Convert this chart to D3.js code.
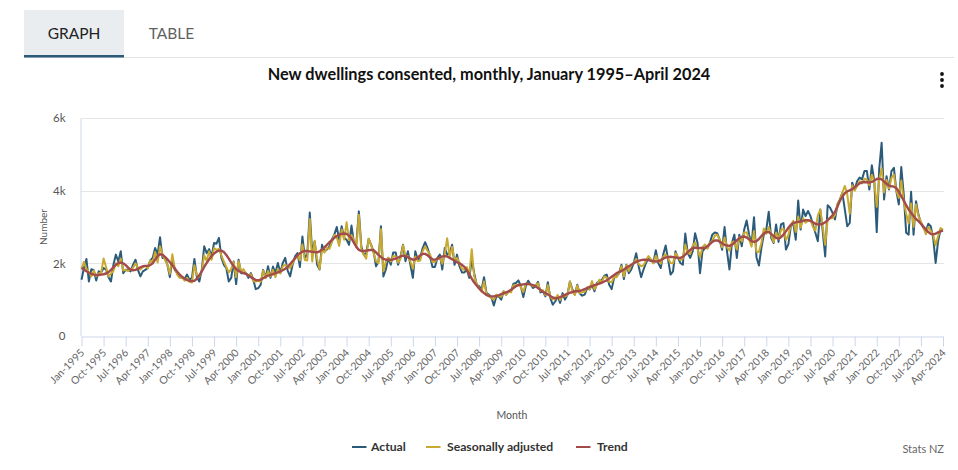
<!DOCTYPE html>
<html><head><meta charset="utf-8">
<script src="https://cdn.jsdelivr.net/npm/d3@7/dist/d3.min.js"></script>
<style>
html,body{margin:0;padding:0;background:#fff}
svg{display:block;font-family:Lato,"Open Sans",sans-serif}
</style></head><body>
<svg id="c" width="958" height="470"></svg>
<script>
const title = "New dwellings consented, monthly, January 1995–April 2024";
const tabs = ["GRAPH","TABLE"];
const yTicks = [0,2000,4000,6000];
const yTickLabels = ["0","2k","4k","6k"];
const tickLabels = ["Jan-1995","Oct-1995","Jul-1996","Apr-1997","Jan-1998","Oct-1998","Jul-1999","Apr-2000","Jan-2001","Oct-2001","Jul-2002","Apr-2003","Jan-2004","Oct-2004","Jul-2005","Apr-2006","Jan-2007","Oct-2007","Jul-2008","Apr-2009","Jan-2010","Oct-2010","Jul-2011","Apr-2012","Jan-2013","Oct-2013","Jul-2014","Apr-2015","Jan-2016","Oct-2016","Jul-2017","Apr-2018","Jan-2019","Oct-2019","Jul-2020","Apr-2021","Jan-2022","Oct-2022","Jul-2023","Apr-2024"];
const seriesNames = ["Actual","Seasonally adjusted","Trend"];
const seriesColors = ["#2c5b7a","#c9a930","#a34b4b"];
const actual = [
1550,1870,2120,1500,1840,1810,1530,1780,1750,1870,1830,1620,
1500,1960,2240,2050,2330,1730,1820,1820,1780,1960,2100,1820,
1640,1780,1820,1870,2080,2150,2420,2240,2720,2150,2150,1960,
1620,2100,1820,1730,1620,1600,1570,1690,1550,1600,2120,1620,
1500,1820,2470,2280,2390,2190,2560,2540,2700,2150,1960,1870,
1500,1600,2050,1430,2100,1730,1730,1730,1600,1730,1550,1290,
1320,1410,1820,1600,1920,1600,1910,1730,2010,1740,2010,2150,
1800,1640,1960,2190,2280,1900,2740,2150,2240,3400,2280,2600,
1960,1830,2510,2330,2380,2470,2650,2790,3000,2650,3020,2700,
2650,2510,3040,2560,2560,3430,2470,2240,2280,2670,2510,2330,
1920,2050,3020,1640,1830,2150,1960,2300,2300,1960,2190,2510,
2060,2330,1960,1600,2330,2100,2150,2420,2580,2420,2190,1900,
1900,2150,2240,1830,2420,2240,2280,2510,1960,2240,1920,1750,
1750,1830,1600,2100,1730,1410,1370,1280,1620,1180,1140,1070,
840,1090,1090,1000,1230,1140,1230,1230,1440,1460,1530,1370,
1070,1370,1520,1410,1320,1370,1490,1200,1230,1090,1480,1050,
860,950,1090,910,1180,1000,1140,1500,1280,1140,1410,1170,
1110,1140,1320,1280,1410,1230,1460,1500,1550,1660,1690,1410,
1290,1600,1650,1730,1960,1570,1960,1730,1830,2010,2280,1920,
1620,1830,2010,2150,2100,2010,2360,2010,1870,2240,2490,2100,
1690,1780,2330,2150,2010,1960,2820,2280,2150,2330,2830,2560,
1730,2330,2420,2420,2560,2790,2850,2830,2650,2370,3000,2330,
1830,2560,2790,2150,2790,2470,2930,3180,2790,2520,3270,2170,
1940,2420,2790,2930,3420,2700,2560,3070,2590,3070,3110,2380,
2520,3020,3110,2650,3730,2930,3480,3300,3440,3300,3070,2840,
2610,3480,2880,2190,3600,3530,3390,3210,3620,3760,3940,3480,
3020,3110,4220,4030,4260,4360,4310,4540,4540,4030,4700,4260,
2860,4590,5320,3760,4400,4030,4540,4630,3990,3620,4650,3900,
2840,2790,3970,2790,3710,3340,3110,2980,2880,3090,3020,2700,
2010,2610,2930,2900];
const seasonallyAdjusted = [
1850,2040,1850,1760,1640,1800,1640,1720,1740,2130,1900,1640,
1720,1790,2000,1920,2130,1800,1820,1790,1830,1880,2000,1880,
1830,1900,1930,1860,2080,2030,2310,2020,2470,2240,2090,1960,
1710,2250,1860,1690,1600,1620,1520,1600,1490,1470,1950,1680,
1630,1790,2220,2070,2330,2100,2420,2370,2400,2220,2050,1900,
1750,1840,2030,1620,2060,1780,1840,1720,1660,1700,1510,1500,
1530,1490,1800,1590,1790,1640,1820,1620,1850,1720,1920,1960,
1890,1870,2000,2130,2210,2080,2520,2090,2080,3220,2050,2620,
2120,1840,2380,2300,2420,2400,2570,2780,2720,2480,2930,2650,
3130,2640,2780,2640,2440,3340,2400,2240,2130,2680,2500,2280,
2060,2000,2940,1780,2050,2160,2050,2200,2190,2020,2130,2500,
2200,2200,2050,1850,2190,2060,2080,2330,2470,2340,2240,2040,
2040,2120,2160,1990,2260,2690,2180,2450,2080,2150,2010,1850,
1820,1900,1680,2390,1640,1430,1330,1220,1500,1150,1110,1040,
1000,1140,1100,1080,1230,1130,1220,1200,1400,1400,1420,1350,
1210,1440,1440,1410,1370,1400,1450,1240,1260,1130,1400,1080,
1010,1020,1130,990,1120,1090,1130,1500,1230,1130,1390,1180,
1200,1220,1340,1290,1510,1280,1410,1550,1480,1640,1600,1490,
1480,1630,1620,1720,1920,1640,1950,1790,1950,2010,2120,1980,
1920,1950,2080,2200,2110,2000,2210,2080,1990,2180,2250,2130,
2010,2000,2280,2180,2090,2130,2520,2280,2260,2490,2580,2380,
2170,2440,2520,2400,2560,2610,2760,2790,2660,2440,2710,2450,
2350,2590,2580,2380,2720,2600,2850,2850,2660,2460,2890,2320,
2310,2560,2960,2810,3000,2780,2580,2850,2670,2920,2950,2640,
2780,3050,3170,2860,3290,2980,3240,3120,3170,3190,3000,2900,
3320,3480,3000,2510,3200,3250,3240,3330,3640,3750,3950,4130,
3900,3370,4150,4000,4130,4260,4200,4330,4300,4150,4440,4250,
3560,4300,4620,3950,4300,4060,4350,4440,4000,3800,4280,3700,
3360,3100,3650,3000,3620,3300,3150,3000,2800,3000,2900,2780,
2500,2750,2970,2930];
const trend = [
1870,1830,1780,1740,1710,1690,1680,1680,1690,1700,1720,1760,
1820,1890,1960,2010,2020,2000,1950,1880,1830,1810,1820,1850,
1890,1920,1930,1930,1950,2000,2100,2200,2250,2240,2180,2110,
2030,1950,1860,1770,1690,1630,1580,1540,1520,1510,1520,1580,
1670,1780,1900,2010,2110,2200,2270,2320,2350,2350,2310,2230,
2130,2020,1920,1840,1790,1760,1740,1710,1670,1620,1580,1540,
1530,1550,1590,1630,1660,1680,1700,1730,1750,1780,1810,1850,
1900,1980,2060,2140,2220,2280,2320,2340,2340,2330,2320,2310,
2300,2330,2380,2440,2510,2580,2640,2700,2750,2790,2810,2820,
2810,2760,2680,2570,2450,2370,2340,2340,2350,2360,2370,2360,
2300,2230,2170,2120,2100,2100,2100,2110,2130,2160,2190,2210,
2200,2170,2130,2100,2110,2160,2220,2260,2260,2220,2160,2110,
2100,2120,2160,2190,2200,2190,2150,2110,2070,2030,2000,1960,
1900,1810,1700,1580,1470,1390,1310,1240,1180,1130,1100,1090,
1090,1100,1120,1150,1180,1200,1230,1270,1320,1370,1400,1410,
1420,1430,1430,1420,1400,1370,1320,1270,1220,1180,1140,1100,
1060,1040,1050,1070,1100,1130,1160,1190,1210,1230,1230,1240,
1260,1290,1320,1350,1370,1400,1420,1440,1470,1500,1530,1580,
1630,1680,1730,1760,1790,1830,1880,1920,1960,2000,2040,2070,
2090,2100,2100,2090,2070,2060,2050,2060,2090,2130,2160,2170,
2180,2170,2160,2150,2150,2180,2240,2310,2370,2420,2430,2430,
2420,2420,2430,2470,2530,2590,2630,2630,2600,2550,2510,2490,
2480,2510,2570,2630,2690,2730,2740,2710,2660,2610,2590,2610,
2670,2750,2820,2860,2860,2810,2750,2700,2680,2720,2790,2880,
2980,3060,3110,3130,3140,3150,3170,3190,3190,3170,3130,3090,
3070,3070,3090,3130,3190,3250,3320,3420,3560,3720,3840,3930,
3980,4010,4040,4090,4150,4200,4230,4240,4230,4220,4240,4280,
4320,4330,4310,4250,4190,4140,4120,4110,4070,3970,3850,3730,
3600,3480,3390,3300,3220,3160,3090,3010,2930,2860,2810,2800,
2820,2850,2880,2900];

const series = [actual, seasonallyAdjusted, trend];
const svg = d3.select("#c");
const x = d3.scaleLinear().domain([0, actual.length-1]).range([81.5, 943]);
const y = d3.scaleLinear().domain([0, 6000]).range([336, 118]);

// tabs
svg.append("rect").attr("x",24).attr("y",10).attr("width",100).attr("height",46).attr("fill","#e9edf0");
svg.append("line").attr("x1",24).attr("x2",954).attr("y1",57.5).attr("y2",57.5).attr("stroke","#e2e2e2");
svg.append("rect").attr("x",24).attr("y",55).attr("width",100).attr("height",2.5).attr("fill","#2c5b7a");
svg.selectAll("text.tab").data(tabs).join("text").attr("class","tab")
  .attr("x",(d,i)=>[74,171.5][i]).attr("y",39).attr("text-anchor","middle")
  .attr("font-size",15.5).attr("fill",(d,i)=>i?"#5f5f5f":"#222").text(d=>d);

// title
svg.append("text").attr("x",489).attr("y",80).attr("text-anchor","middle")
  .attr("font-size",16.3).attr("font-weight",700).attr("fill","#111").text(title);

// kebab menu
svg.selectAll("circle.m").data([0,1,2]).join("circle").attr("class","m")
  .attr("cx",942).attr("cy",d=>74+d*6).attr("r",1.9).attr("fill","#111");

// grid
const g = svg.append("g");
g.selectAll("line.grid").data(yTicks.slice(1)).join("line").attr("class","grid")
  .attr("x1",81).attr("x2",944).attr("y1",d=>Math.round(y(d))+.5).attr("y2",d=>Math.round(y(d))+.5)
  .attr("stroke","#e6e6e6");

// y axis
const yAxis = d3.axisLeft(y).tickValues(yTicks).tickSize(0).tickPadding(15)
  .tickFormat((d,i)=>yTickLabels[i]);
const ya = svg.append("g").attr("transform","translate(80.5,0)").call(yAxis);
ya.select(".domain").attr("stroke","#ccd6eb");
ya.selectAll("text").attr("font-size",11.5).attr("fill","#555").attr("font-family","Lato,sans-serif");

svg.append("text").attr("transform","translate(47,227) rotate(-90)").attr("text-anchor","middle")
  .attr("font-size",10).attr("fill","#555").text("Number");

// x axis
const xTicks = tickLabels.map((d,i)=>i*9);
const xAxis = d3.axisBottom(x).tickValues(xTicks).tickSize(10).tickSizeOuter(0)
  .tickFormat((d,i)=>tickLabels[i]);
const xa = svg.append("g").attr("transform","translate(0,336.5)").call(xAxis);
xa.select(".domain").attr("stroke","#ccd6eb");
xa.selectAll(".tick line").attr("stroke","#ccd6eb");
xa.selectAll("text").attr("font-size",10.5).attr("fill","#666").attr("font-family","Lato,sans-serif")
  .attr("text-anchor","end").attr("dy",0).attr("y",0)
  .attr("transform","translate(3,17) rotate(-45)");

svg.append("text").attr("x",512).attr("y",419).attr("text-anchor","middle")
  .attr("font-size",10.5).attr("fill","#555").text("Month");

// lines
const line = d3.line().x((d,i)=>x(i)).y(d=>y(d)).curve(d3.curveLinear);
svg.selectAll("path.s").data(series).join("path").attr("class","s")
  .attr("fill","none").attr("stroke",(d,i)=>seriesColors[i]).attr("stroke-width",(d,i)=>i==2?2.4:2)
  .attr("stroke-linejoin","round").attr("d",line);

// legend
const lx = [352,426,576], tx=[371,447,597];
const lg = svg.append("g");
seriesNames.forEach((n,i)=>{
  lg.append("line").attr("x1",lx[i]).attr("x2",lx[i]+14.5).attr("y1",447).attr("y2",447)
    .attr("stroke",seriesColors[i]).attr("stroke-width",2);
  lg.append("text").attr("x",tx[i]).attr("y",451).attr("font-size",12.2).attr("font-weight",700)
    .attr("fill","#333").text(n);
});
svg.append("text").attr("x",944).attr("y",453).attr("text-anchor","end")
  .attr("font-size",11).attr("fill","#666").text("Stats NZ");
</script>
</body></html>
